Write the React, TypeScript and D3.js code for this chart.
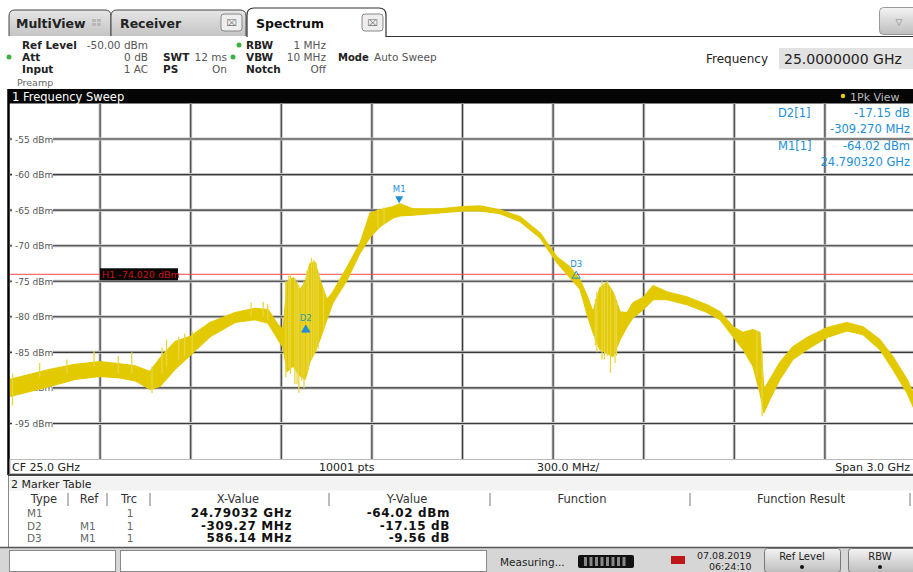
import React from "react";
import * as d3 from "d3";

// sweep settings
const centerGHz = 25.0;
const spanGHz = 3.0;
const refLevel = -50;
const dbPerDiv = 5;
const yTickLabels = [-55, -60, -65, -70, -75, -80, -85, -90, -95];

// trace envelope (GHz, dBm max / min of the 1Pk band)
const traceFreq = [
  23.502, 23.568, 23.634, 23.717, 23.8, 23.866, 23.916, 23.965, 23.998, 24.048,
  24.101, 24.164, 24.247, 24.313, 24.356, 24.389, 24.406, 24.419, 24.439, 24.462,
  24.479, 24.495, 24.512, 24.528, 24.551, 24.571, 24.618, 24.661, 24.694, 24.727,
  24.77, 24.793, 24.836, 24.925, 25.002, 25.058, 25.124, 25.19, 25.257, 25.313,
  25.356, 25.389, 25.415, 25.432, 25.455, 25.478, 25.498, 25.522, 25.545, 25.565,
  25.598, 25.631, 25.677, 25.743, 25.81, 25.853, 25.896, 25.929, 25.962, 25.985,
  25.998, 26.018, 26.051, 26.094, 26.141, 26.207, 26.273, 26.326, 26.382, 26.425,
  26.472, 26.5,
];
const traceHigh = [
  -88.8, -88.1, -87.4, -86.7, -86.3, -86.6, -86.9, -87.7, -85.8, -83.5,
  -82.7, -80.8, -79.4, -78.8, -79.0, -81.1, -81.8, -75.1, -74.5, -76.2,
  -75.1, -72.5, -72.3, -74.8, -77.6, -76.5, -73.0, -69.6, -65.4, -64.96,
  -64.5, -64.1, -64.8, -64.8, -64.5, -64.4, -64.96, -65.9, -68.2, -71.6,
  -73.0, -74.8, -77.3, -79.3, -75.9, -75.2, -76.5, -79.3, -79.4, -78.0,
  -77.3, -75.6, -76.5, -77.2, -78.3, -79.3, -81.4, -82.2, -81.8, -82.2,
  -90.2, -88.8, -86.4, -84.2, -82.9, -81.5, -80.8, -81.4, -83.2, -85.6,
  -88.8, -91.4,
];
const traceLow = [
  -91.2, -90.5, -89.8, -88.8, -88.4, -88.6, -89.0, -90.2, -89.8, -87.4,
  -85.3, -82.8, -80.8, -80.4, -80.9, -83.2, -84.3, -87.7, -86.9, -88.3,
  -88.8, -86.3, -84.9, -83.2, -80.4, -78.0, -74.8, -71.0, -68.8, -67.3,
  -66.1, -65.8, -65.7, -65.4, -65.1, -65.1, -65.5, -66.6, -68.9, -72.4,
  -74.5, -76.1, -80.0, -82.2, -84.6, -85.1, -85.6, -83.2, -81.4, -80.1,
  -79.0, -77.6, -77.6, -78.3, -79.4, -80.4, -82.8, -84.6, -87.0, -90.7,
  -93.5, -91.6, -88.8, -86.0, -84.6, -82.9, -82.0, -82.5, -84.6, -87.4,
  -90.7, -93.4,
];

// single-sweep spikes sticking out of the band
const spikeFreq = [
  23.51, 23.6, 23.69, 23.78, 23.86, 23.905, 23.972, 24.005, 24.02, 24.06,
  24.08, 24.105, 24.3, 24.34, 24.355, 24.415, 24.425, 24.43, 24.445, 24.452,
  24.458, 24.468, 24.475, 24.485, 24.49, 24.5, 24.507, 24.515, 24.522, 24.54,
  24.72, 24.74, 25.44, 25.445, 25.462, 25.47, 25.48, 25.49, 25.505, 25.51,
  25.975, 25.992,
];
const spikeHigh = [
  -88.0, -86.5, -86.0, -84.8, -85.5, -85.0, -87.0, -84.3, -83.2, -82.8,
  -82.4, -82.0, -78.0, -77.9, -78.2, -75.0, -74.2, -74.0, -74.5, -75.0,
  -75.5, -76.0, -75.0, -73.5, -73.0, -71.7, -72.0, -72.4, -73.8, -76.0,
  -64.8, -64.6, -77.5, -76.5, -75.0, -75.3, -75.0, -75.8, -77.0, -78.0,
  -82.0, -85.0,
];
const spikeLow = [
  -92.5, -88.5, -88.0, -87.0, -88.0, -88.0, -90.7, -88.0, -87.0, -86.0,
  -85.5, -85.0, -80.0, -80.0, -80.5, -88.5, -87.2, -88.0, -89.5, -89.5,
  -90.7, -89.0, -90.0, -88.0, -87.5, -86.0, -85.5, -85.0, -84.5, -82.0,
  -67.5, -67.0, -84.0, -85.0, -86.0, -86.0, -85.5, -87.85, -86.5, -85.5,
  -88.5, -94.0,
];

// markers
const m1Freq = 24.79032;
const m1Level = -64.02;
const deltaNames = ["D2", "D3"];
const deltaFreq = [-0.30927, 0.58614];
const deltaLevel = [-17.15, -9.56];
const h1Level = -74.02;

const tableType = ["M1", "D2", "D3"];
const tableRef = ["", "M1", "M1"];
const tableTrc = ["1", "1", "1"];
const tableX = ["24.79032 GHz", "-309.27 MHz", "586.14 MHz"];
const tableY = ["-64.02 dBm", "-17.15 dB", "-9.56 dB"];

const FONT = "DejaVu Sans, Verdana, sans-serif";
const BLUE = "#1e8fd6";
const YELLOW = "#e3c900";

function tab(x0: number, x1: number, top: number, bottom: number, r: number) {
  return `M${x0},${bottom} L${x0},${top + r} Q${x0},${top} ${x0 + r},${top} L${x1 - r},${top} Q${x1},${top} ${x1},${top + r} L${x1},${bottom}`;
}

export default function App() {
  const x = d3
    .scaleLinear()
    .domain([centerGHz - spanGHz / 2, centerGHz + spanGHz / 2])
    .range([9.5, 915.5]);
  const y = d3
    .scaleLinear()
    .domain([refLevel - 10 * dbPerDiv, refLevel])
    .range([459, 103.5]);

  const vGrid = d3.range(1, 10).map((i) => x.domain()[0] + (i * spanGHz) / 10);

  const area = d3
    .area<number>()
    .x((f) => x(f))
    .y0((_, i) => y(traceLow[i]))
    .y1((_, i) => y(traceHigh[i]))
    .curve(d3.curveLinear);

  const m1x = x(m1Freq);
  const m1y = y(m1Level);
  const rowY = (i: number) => 517 + i * 12.5;

  return (
    <svg
      width={913}
      height={572}
      style={{ position: "absolute", left: 0, top: 0, background: "#fff" }}
      fontFamily={FONT}
    >
      <defs>
        <linearGradient id="tabg" x1="0" y1="0" x2="0" y2="1">
          <stop offset="0" stopColor="#e6e6e6" />
          <stop offset="1" stopColor="#c4c4c4" />
        </linearGradient>
        <linearGradient id="btng" x1="0" y1="0" x2="0" y2="1">
          <stop offset="0" stopColor="#f4f4f4" />
          <stop offset="1" stopColor="#bdbdbd" />
        </linearGradient>
        <clipPath id="plot">
          <rect x={10} y={103.5} width={905} height={355.5} />
        </clipPath>
      </defs>

      {/* tabs */}
      <path d={tab(9, 111, 10, 36, 6)} fill="url(#tabg)" stroke="#444" strokeWidth={1} />
      <path d={tab(111, 246, 10, 36, 6)} fill="url(#tabg)" stroke="#444" strokeWidth={1} />
      <path d={tab(247, 386, 8, 37, 7)} fill="#fff" stroke="#333" strokeWidth={1.2} />
      <line x1={386} x2={913} y1={36.5} y2={36.5} stroke="#333" strokeWidth={1.2} />
      <text x={16} y={28} fontSize={12.5} fontWeight="bold" fill="#222">MultiView</text>
      <g fill="#b8b8b8">
        <rect x={92} y={19} width={4} height={3} />
        <rect x={97} y={19} width={4} height={3} />
        <rect x={92} y={23} width={4} height={3} />
        <rect x={97} y={23} width={4} height={3} />
      </g>
      <text x={120} y={28} fontSize={12.5} fontWeight="bold" fill="#222">Receiver</text>
      <rect x={221} y={14} width={21} height={17} rx={3} fill="#eee" stroke="#888" />
      <text x={231.5} y={26} fontSize={9} textAnchor="middle" fill="#777">⌧</text>
      <text x={256} y={28} fontSize={12.5} fontWeight="bold" fill="#111">Spectrum</text>
      <rect x={362} y={14} width={21} height={17} rx={3} fill="#eee" stroke="#888" />
      <text x={372.5} y={26} fontSize={9} textAnchor="middle" fill="#777">⌧</text>
      <rect x={879.5} y={7.5} width={40} height={27} rx={4} fill="url(#btng)" stroke="#999" />
      <text x={899} y={25} fontSize={9} textAnchor="middle" fill="#888">▽</text>

      {/* settings block */}
      <g fontSize={10.5}>
        <text x={22} y={49} fontWeight="bold" fill="#222">Ref Level</text>
        <text x={148} y={49} textAnchor="end" fill="#555">-50.00 dBm</text>
        <circle cx={9} cy={57} r={2.5} fill="#3cb043" />
        <text x={22} y={61} fontWeight="bold" fill="#222">Att</text>
        <text x={148} y={61} textAnchor="end" fill="#555">0 dB</text>
        <text x={22} y={73} fontWeight="bold" fill="#222">Input</text>
        <text x={148} y={73} textAnchor="end" fill="#555">1 AC</text>
        <text x={17} y={86} fontSize={9.5} fill="#666">Preamp</text>
        <text x={163} y={61} fontWeight="bold" fill="#222">SWT</text>
        <text x={227} y={61} textAnchor="end" fill="#555">12 ms</text>
        <text x={163} y={73} fontWeight="bold" fill="#222">PS</text>
        <text x={227} y={73} textAnchor="end" fill="#555">On</text>
        <circle cx={239} cy={45} r={2.5} fill="#3cb043" />
        <text x={246} y={49} fontWeight="bold" fill="#222">RBW</text>
        <text x={326} y={49} textAnchor="end" fill="#555">1 MHz</text>
        <circle cx={233} cy={57} r={2.5} fill="#3cb043" />
        <text x={246} y={61} fontWeight="bold" fill="#222">VBW</text>
        <text x={326} y={61} textAnchor="end" fill="#555">10 MHz</text>
        <text x={246} y={73} fontWeight="bold" fill="#222">Notch</text>
        <text x={326} y={73} textAnchor="end" fill="#555">Off</text>
        <text x={338} y={61} fontSize={10} fontWeight="bold" fill="#222">Mode</text>
        <text x={374} y={61} fill="#555">Auto Sweep</text>
      </g>
      <text x={706} y={63} fontSize={12} fill="#222">Frequency</text>
      <rect x={779} y={48} width={134} height={21} fill="#e2e2e2" />
      <text x={784} y={64} fontSize={14} fill="#222">25.0000000 GHz</text>

      {/* sweep title bar */}
      <rect x={8} y={89} width={905} height={14.5} fill="#050505" />
      <text x={12} y={100.5} fontSize={11.5} fill="#fff">1 Frequency Sweep</text>
      <circle cx={843} cy={96} r={2.2} fill="#f0d000" />
      <text x={850} y={100.5} fontSize={11} fill="#bbb">1Pk View</text>

      {/* grid */}
      <g>
        {vGrid.map((f) => (
          <g key={"v" + f}>
            <line x1={x(f)} x2={x(f)} y1={103.5} y2={459} stroke="#c4c4c4" strokeWidth={3} />
            <line x1={x(f)} x2={x(f)} y1={103.5} y2={459} stroke="#3a3a3a" strokeWidth={1.1} />
          </g>
        ))}
        {yTickLabels.map((v) => (
          <g key={"h" + v}>
            <line x1={10} x2={915} y1={y(v)} y2={y(v)} stroke="#c4c4c4" strokeWidth={3} />
            <line x1={10} x2={915} y1={y(v)} y2={y(v)} stroke="#3a3a3a" strokeWidth={1.1} />
          </g>
        ))}
      </g>

      {/* marker info box, top right */}
      <g fontSize={11.5} fill={BLUE}>
        <text x={778} y={117}>D2[1]</text>
        <text x={910} y={117} textAnchor="end">-17.15 dB</text>
        <text x={910} y={133} textAnchor="end">-309.270 MHz</text>
        <text x={778} y={150}>M1[1]</text>
        <text x={910} y={150} textAnchor="end">-64.02 dBm</text>
        <text x={910} y={166} textAnchor="end">24.790320 GHz</text>
      </g>

      {/* y labels */}
      {yTickLabels.map((v) => (
        <g key={"l" + v}>
          <rect x={12} y={y(v) - 5} width={41} height={10} fill="#fff" />
          <text x={15} y={y(v) + 3.5} fontSize={9} fill="#555">
            {v} dBm
          </text>
        </g>
      ))}

      {/* display line H1 */}
      <line x1={10} x2={915} y1={y(h1Level)} y2={y(h1Level)} stroke="#ff4a4a" strokeWidth={1} />

      {/* trace */}
      <g clipPath="url(#plot)">
        <path d={area(traceFreq) || ""} fill={YELLOW} stroke={YELLOW} strokeWidth={1.2} strokeLinejoin="round" />
        {spikeFreq.map((f, i) => (
          <line
            key={"s" + i}
            x1={x(f)}
            x2={x(f)}
            y1={y(spikeHigh[i])}
            y2={y(spikeLow[i])}
            stroke="#e8d640"
            strokeWidth={1.3}
          />
        ))}
      </g>

      <rect x={100} y={y(h1Level) - 6} width={78} height={12} fill="#050505" />
      <text x={102} y={y(h1Level) + 3.5} fontSize={9.5} fill="#d01010">
        H1 -74.020 dBm
      </text>

      {/* markers */}
      <path d={`M${m1x - 4},${m1y - 7} L${m1x + 4},${m1y - 7} L${m1x},${m1y} Z`} fill={BLUE} />
      <text x={m1x} y={m1y - 11} fontSize={8.5} fill={BLUE} textAnchor="middle">M1</text>
      {deltaNames.map((n, i) => {
        const dx = x(m1Freq + deltaFreq[i]);
        const dy = y(m1Level + deltaLevel[i]);
        return (
          <g key={n}>
            <path
              d={`M${dx - 4},${dy + 7} L${dx + 4},${dy + 7} L${dx},${dy} Z`}
              fill={i === 0 ? BLUE : "none"}
              stroke={BLUE}
              strokeWidth={1}
            />
            <text x={dx} y={dy - 4} fontSize={8.5} fill={i === 0 ? "#2aa0a0" : BLUE} textAnchor="middle">
              {n}
            </text>
          </g>
        );
      })}

      {/* frame */}
      <line x1={8.5} x2={8.5} y1={89} y2={475} stroke="#000" strokeWidth={2.5} />

      {/* footer of diagram */}
      <rect x={10} y={459.5} width={905} height={14} fill="#fff" stroke="#bbb" strokeWidth={1} />
      <g fontSize={11} fill="#222">
        <text x={12} y={470.5}>CF 25.0 GHz</text>
        <text x={319} y={470.5}>10001 pts</text>
        <text x={537} y={470.5}>300.0 MHz/</text>
        <text x={910} y={470.5} textAnchor="end">Span 3.0 GHz</text>
      </g>
      <line x1={8} x2={913} y1={475} y2={475} stroke="#444" strokeWidth={2} />

      {/* marker table */}
      <rect x={8} y={476.5} width={905} height={14} fill="#f3f3f3" />
      <text x={11} y={488} fontSize={11} fill="#222">2 Marker Table</text>
      <line x1={8.5} x2={8.5} y1={476} y2={548} stroke="#888" strokeWidth={1} />
      <g fontSize={11.5} fill="#333" textAnchor="middle">
        <text x={44} y={503}>Type</text>
        <text x={89} y={503}>Ref</text>
        <text x={129} y={503}>Trc</text>
        <text x={238} y={503}>X-Value</text>
        <text x={407} y={503}>Y-Value</text>
        <text x={582} y={503}>Function</text>
        <text x={801} y={503}>Function Result</text>
      </g>
      {[68, 107, 150, 329, 490, 690, 910].map((sx) => (
        <line key={sx} x1={sx} x2={sx} y1={493} y2={506} stroke="#777" strokeWidth={1} />
      ))}
      {tableType.map((t, i) => (
        <g key={t}>
          <text x={27} y={rowY(i)} fontSize={10.5} fill="#666">{t}</text>
          <text x={80} y={rowY(i)} fontSize={10.5} fill="#666">{tableRef[i]}</text>
          <text x={130} y={rowY(i)} fontSize={10.5} fill="#666" textAnchor="middle">{tableTrc[i]}</text>
          <text x={292} y={rowY(i)} fontSize={12} fontWeight="bold" fill="#111" textAnchor="end" letterSpacing={0.6}>
            {tableX[i]}
          </text>
          <text x={450} y={rowY(i)} fontSize={12} fontWeight="bold" fill="#111" textAnchor="end" letterSpacing={0.6}>
            {tableY[i]}
          </text>
        </g>
      ))}

      {/* status bar */}
      <rect x={0} y={547} width={913} height={25} fill="#d6d6d6" />
      <line x1={0} x2={913} y1={547.5} y2={547.5} stroke="#555" strokeWidth={1.5} />
      <rect x={9.5} y={550.5} width={106} height={21} fill="#fff" stroke="#888" />
      <rect x={120.5} y={550.5} width={366} height={21} fill="#fff" stroke="#888" />
      <text x={500} y={566} fontSize={10.5} fill="#222">Measuring...</text>
      <rect x={578} y={555} width={56} height={13} rx={2} fill="#111" />
      {d3.range(8).map((i) => (
        <rect key={"p" + i} x={584 + i * 5.5} y={557} width={3} height={9} fill="#888" />
      ))}
      <rect x={671} y={556} width={14} height={8} fill="#c01818" />
      <text x={697} y={559} fontSize={9.5} fill="#222">07.08.2019</text>
      <text x={709} y={570} fontSize={9.5} fill="#222">06:24:10</text>
      <rect x={764.5} y={548.5} width={76} height={24} rx={3} fill="url(#btng)" stroke="#777" />
      <text x={802} y={560} fontSize={10} fill="#222" textAnchor="middle">Ref Level</text>
      <circle cx={802} cy={567} r={2} fill="#111" />
      <rect x={848.5} y={548.5} width={70} height={24} rx={3} fill="url(#btng)" stroke="#777" />
      <text x={880} y={560} fontSize={10} fill="#222" textAnchor="middle">RBW</text>
      <circle cx={880} cy={567} r={2} fill="#111" />
    </svg>
  );
}
